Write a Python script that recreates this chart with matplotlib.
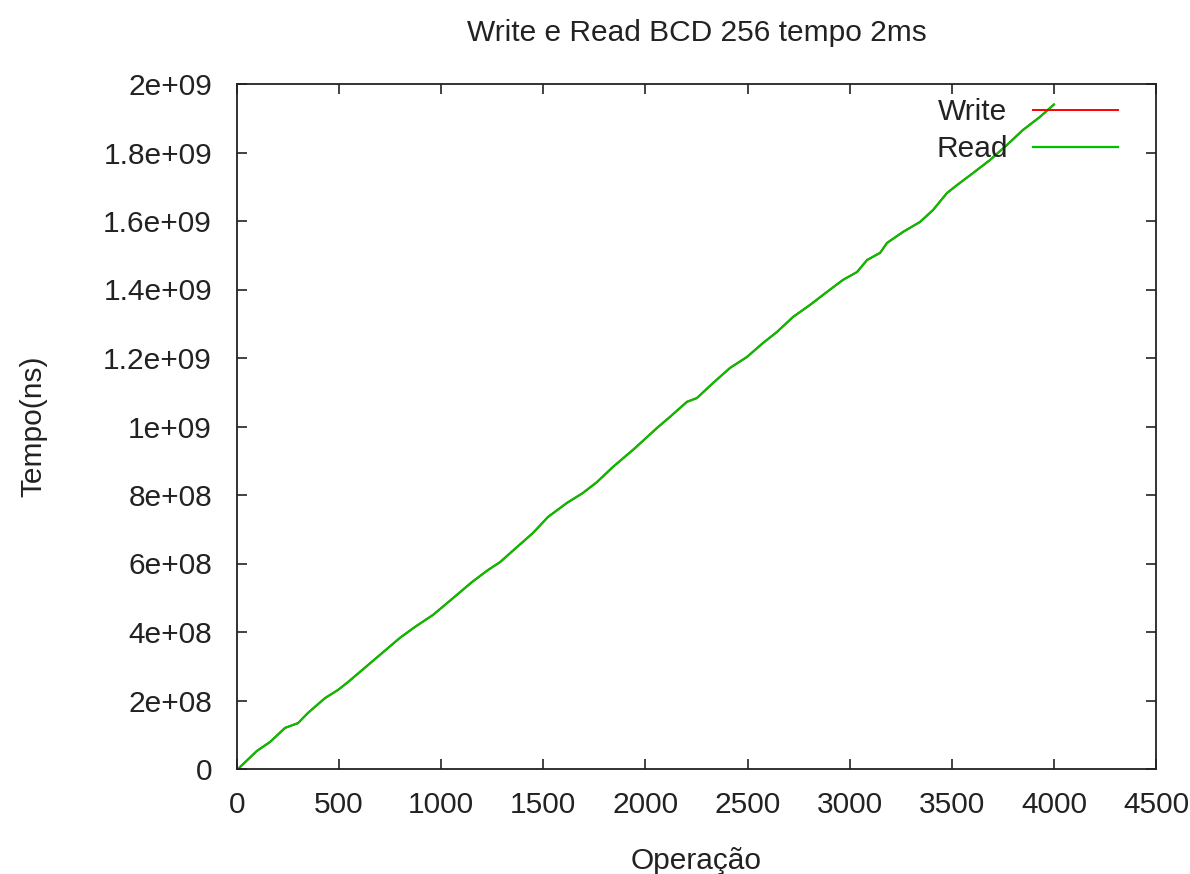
import matplotlib
matplotlib.use('Agg')
import matplotlib.pyplot as plt

# values (operation index, time in ns)
operacao = [0, 10, 98, 162, 235, 299, 348, 431, 495, 544, 798, 872, 960, 1058,
            1151, 1229, 1288, 1371, 1449, 1523, 1616, 1694, 1763, 1841, 1949,
            2057, 2120, 2203, 2252, 2331, 2414, 2497, 2576, 2644, 2723, 2806,
            2889, 2967, 3036, 3085, 3149, 3183, 3261, 3344, 3408, 3477, 3526,
            3604, 3687, 3770, 3849, 3932, 4000]
tempo_read = [0, 0.003e9, 0.053e9, 0.079e9, 0.120e9, 0.134e9, 0.164e9, 0.207e9,
              0.231e9, 0.254e9, 0.383e9, 0.415e9, 0.450e9, 0.499e9, 0.546e9,
              0.581e9, 0.604e9, 0.648e9, 0.689e9, 0.736e9, 0.777e9, 0.806e9,
              0.838e9, 0.882e9, 0.937e9, 0.996e9, 1.028e9, 1.072e9, 1.083e9,
              1.127e9, 1.171e9, 1.203e9, 1.244e9, 1.276e9, 1.320e9, 1.355e9,
              1.393e9, 1.428e9, 1.451e9, 1.486e9, 1.507e9, 1.536e9, 1.568e9,
              1.597e9, 1.632e9, 1.682e9, 1.705e9, 1.740e9, 1.778e9, 1.822e9,
              1.866e9, 1.904e9, 1.940e9]
# write curve is hidden under the read curve in the reference
tempo_write = list(tempo_read)

xticks = [0, 500, 1000, 1500, 2000, 2500, 3000, 3500, 4000, 4500]
yticks = [0, 2e8, 4e8, 6e8, 8e8, 1e9, 1.2e9, 1.4e9, 1.6e9, 1.8e9, 2e9]
ytick_labels = ['0', '2e+08', '4e+08', '6e+08', '8e+08', '1e+09', '1.2e+09',
                '1.4e+09', '1.6e+09', '1.8e+09', '2e+09']

plt.rcParams['font.family'] = ['Liberation Sans', 'DejaVu Sans']
fs = 21.5

fig = plt.figure(figsize=(11.9, 8.74), dpi=100)
ax = fig.add_axes([237/1190, 1-769/874, (1156-237)/1190, (769-84)/874])

ax.plot(operacao, tempo_write, color='#ff0000', lw=1.4, label='Write')
ax.plot(operacao, tempo_read, color='#00c000', lw=1.6, label='Read')

ax.set_xlim(0, 4500)
ax.set_ylim(0, 2e9)
ax.set_xticks(xticks)
ax.set_xticklabels([str(t) for t in xticks])
ax.set_yticks(yticks)
ax.set_yticklabels(ytick_labels)
ax.tick_params(direction='in', length=7, width=1.2, top=True, right=True,
               labelsize=fs, colors='#222222')
ax.tick_params(axis='x', pad=16)
ax.tick_params(axis='y', pad=18)
for s in ax.spines.values():
    s.set_linewidth(1.3)
    s.set_color('#222222')

ax.set_title('Write e Read BCD 256 tempo 2ms', fontsize=fs, pad=31, color='#222222')
ax.set_xlabel('Operação', fontsize=fs, labelpad=20, color='#222222')
ax.set_ylabel('Tempo(ns)', fontsize=fs, labelpad=40, color='#222222')

leg = ax.legend(loc='upper right', bbox_to_anchor=(0.9587, 0.979), frameon=False,
                markerfirst=False, fontsize=fs, handlelength=2.85, handletextpad=0.85,
                borderpad=0, borderaxespad=0, labelspacing=0.3)
for t in leg.get_texts():
    t.set_color('#222222')

fig.savefig('out.png', dpi=100)
